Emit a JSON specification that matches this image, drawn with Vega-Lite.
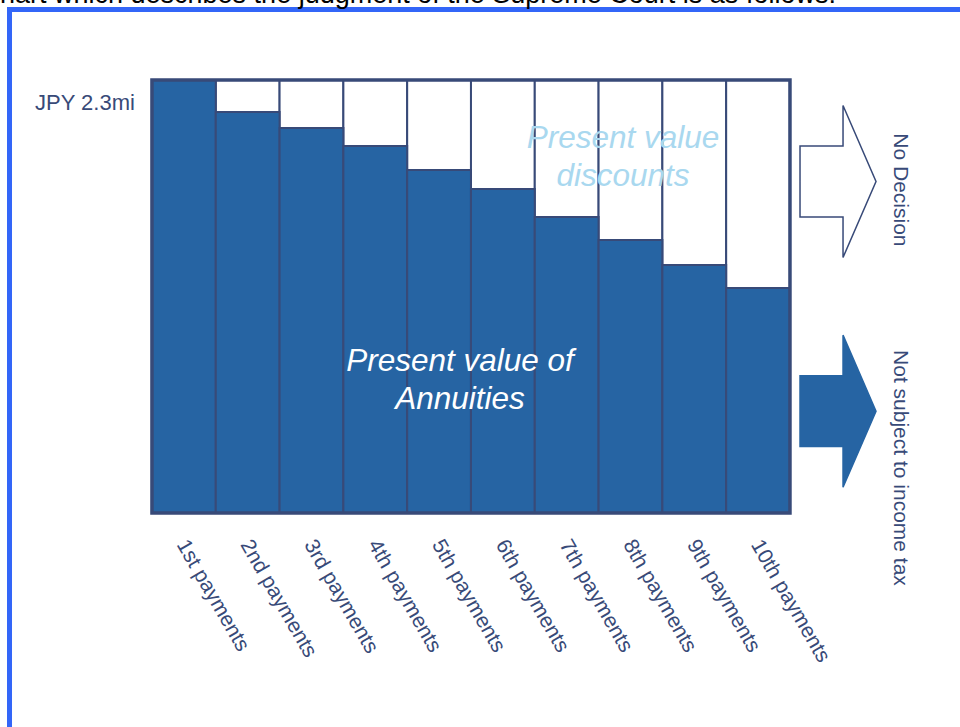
{
  "$schema": "https://vega.github.io/schema/vega-lite/v6.json",
  "width": 960,
  "height": 727,
  "padding": 0,
  "autosize": {"type": "none"},
  "background": "white",
  "config": {"view": {"stroke": null}, "font": "Liberation Sans"},
  "datasets": {
    "bars": [
      {"idx": 1, "payment": "1st payments", "base": 0, "full": 2.3, "pv": 2.3},
      {"idx": 2, "payment": "2nd payments", "base": 0, "full": 2.3, "pv": 2.13},
      {"idx": 3, "payment": "3rd payments", "base": 0, "full": 2.3, "pv": 2.045},
      {"idx": 4, "payment": "4th payments", "base": 0, "full": 2.3, "pv": 1.949},
      {"idx": 5, "payment": "5th payments", "base": 0, "full": 2.3, "pv": 1.822},
      {"idx": 6, "payment": "6th payments", "base": 0, "full": 2.3, "pv": 1.721},
      {"idx": 7, "payment": "7th payments", "base": 0, "full": 2.3, "pv": 1.572},
      {"idx": 8, "payment": "8th payments", "base": 0, "full": 2.3, "pv": 1.45},
      {"idx": 9, "payment": "9th payments", "base": 0, "full": 2.3, "pv": 1.317},
      {"idx": 10, "payment": "10th payments", "base": 0, "full": 2.3, "pv": 1.195}
    ],
    "arrows": [
      {"arrow": "No Decision", "x": 11.253, "y": 1.761},
      {"arrow": "Not subject to income tax", "x": 11.253, "y": 0.541}
    ]
  },
  "layer": [
    {
      "data": {"values": [{"x": -1.733, "x2": 14, "y": 2.674, "y2": -1.5}]},
      "mark": {"type": "rect", "fillOpacity": 0, "stroke": "#3366f8", "strokeWidth": 5},
      "encoding": {
        "x": {"field": "x", "type": "quantitative", "scale": {"domain": [-1.882, 13.165], "nice": false, "zero": false}, "axis": null},
        "x2": {"field": "x2"},
        "y": {"field": "y", "type": "quantitative", "scale": {"domain": [-1.137, 2.725], "nice": false, "zero": false}, "axis": null},
        "y2": {"field": "y2"}
      }
    },
    {
      "data": {"values": [{"t": "hart which describes the judgment of the Supreme Court is as follows:", "x": -1.882, "y": 2.709}]},
      "mark": {"type": "text", "align": "left", "baseline": "alphabetic", "fontSize": 27, "color": "#000000"},
      "encoding": {
        "x": {"field": "x", "type": "quantitative"},
        "y": {"field": "y", "type": "quantitative"},
        "text": {"field": "t"}
      }
    },
    {
      "data": {"name": "bars"},
      "transform": [{"calculate": "datum.idx - 0.5", "as": "x0"}, {"calculate": "datum.idx + 0.5", "as": "x1"}],
      "mark": {"type": "rect", "fill": "white", "stroke": "#384a78", "strokeWidth": 2},
      "encoding": {
        "x": {"field": "x0", "type": "quantitative"},
        "x2": {"field": "x1"},
        "y": {"field": "full", "type": "quantitative"},
        "y2": {"field": "base"}
      }
    },
    {
      "data": {"name": "bars"},
      "transform": [{"calculate": "datum.idx - 0.5", "as": "x0"}, {"calculate": "datum.idx + 0.5", "as": "x1"}],
      "mark": {"type": "rect", "fill": "#2664a3", "stroke": "#384a78", "strokeWidth": 2},
      "encoding": {
        "x": {"field": "x0", "type": "quantitative"},
        "x2": {"field": "x1"},
        "y": {"field": "pv", "type": "quantitative"},
        "y2": {"field": "base"}
      }
    },
    {
      "data": {"values": [{"x": 0.5, "x2": 10.5, "y": 0, "y2": 2.3}]},
      "mark": {"type": "rect", "fillOpacity": 0, "stroke": "#384a78", "strokeWidth": 3.5},
      "encoding": {
        "x": {"field": "x", "type": "quantitative"},
        "x2": {"field": "x2"},
        "y": {"field": "y", "type": "quantitative"},
        "y2": {"field": "y2"}
      }
    },
    {
      "data": {"name": "bars"},
      "mark": {"type": "text", "angle": 60, "align": "left", "baseline": "middle", "fontSize": 21, "color": "#384a78", "dx": -5},
      "encoding": {
        "x": {"field": "idx", "type": "quantitative"},
        "y": {"datum": -0.175, "type": "quantitative"},
        "text": {"field": "payment"}
      }
    },
    {
      "data": {"values": [
        {"t": "Present value of\nAnnuities", "x": 5.328, "y": 0.802, "kind": "pv"},
        {"t": "Present value\ndiscounts", "x": 7.883, "y": 1.987, "kind": "disc"}
      ]},
      "mark": {"type": "text", "align": "center", "baseline": "middle", "fontSize": 31.5, "fontStyle": "italic", "lineBreak": "\n", "lineHeight": 38},
      "encoding": {
        "x": {"field": "x", "type": "quantitative"},
        "y": {"field": "y", "type": "quantitative"},
        "text": {"field": "t"},
        "color": {"field": "kind", "type": "nominal", "scale": {"domain": ["pv", "disc"], "range": ["#ffffff", "#a9d8ef"]}, "legend": null}
      }
    },
    {
      "data": {"values": [{"t": "JPY 2.3mi", "x": -1.333, "y": 2.178}]},
      "mark": {"type": "text", "align": "left", "baseline": "middle", "fontSize": 22, "color": "#384a78"},
      "encoding": {
        "x": {"field": "x", "type": "quantitative"},
        "y": {"field": "y", "type": "quantitative"},
        "text": {"field": "t"}
      }
    },
    {
      "data": {"name": "arrows"},
      "mark": {"type": "point", "filled": true, "opacity": 1, "size": 23104, "shape": "M-0.5,-0.467L0.066,-0.467L0.066,-1L0.5,0L0.066,1L0.066,0.467L-0.5,0.467Z", "strokeWidth": 1.5},
      "encoding": {
        "x": {"field": "x", "type": "quantitative"},
        "y": {"field": "y", "type": "quantitative"},
        "fill": {"field": "arrow", "type": "nominal", "scale": {"domain": ["No Decision", "Not subject to income tax"], "range": ["#ffffff", "#2664a3"]}, "legend": null},
        "stroke": {"field": "arrow", "type": "nominal", "scale": {"domain": ["No Decision", "Not subject to income tax"], "range": ["#384a78", "#2664a3"]}, "legend": null}
      }
    },
    {
      "data": {"values": [
        {"t": "No Decision", "x": 12.225, "y": 1.716},
        {"t": "Not subject to income tax", "x": 12.225, "y": 0.239}
      ]},
      "mark": {"type": "text", "angle": 90, "align": "center", "baseline": "middle", "fontSize": 21, "color": "#384a78"},
      "encoding": {
        "x": {"field": "x", "type": "quantitative"},
        "y": {"field": "y", "type": "quantitative"},
        "text": {"field": "t"}
      }
    }
  ]
}
